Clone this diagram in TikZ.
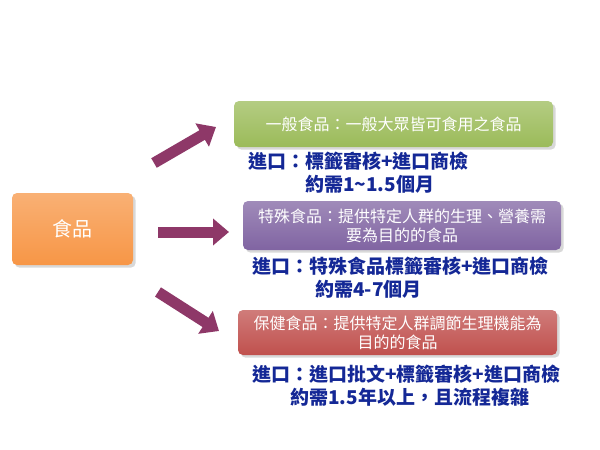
\documentclass[tikz,border=0pt]{standalone}
\usepackage{fontspec}
\setmainfont{Noto Sans CJK TC}
\usetikzlibrary{arrows.meta,shadows}
\definecolor{og}{RGB}{247,150,70}
\definecolor{gr}{RGB}{155,187,89}
\definecolor{pu}{RGB}{128,100,162}
\definecolor{rd}{RGB}{192,80,77}
\definecolor{ar}{RGB}{142,56,104}
\definecolor{bl}{RGB}{20,40,150}
\tikzset{
 box/.style={rounded corners=5pt,text=white,inner sep=0pt,align=center,font=\fontsize{16}{19}\selectfont,drop shadow={opacity=0.3}},
 barrow/.style={draw=ar,line width=11pt,-{Triangle[length=16pt,width=26pt]}},
 note/.style={text=bl,anchor=west,font=\fontsize{19}{21}\selectfont\bfseries,inner sep=0pt}
}
\begin{document}
\begin{tikzpicture}[x=1pt,y=-1pt]
\useasboundingbox (0,0) rectangle (600,450);
\fill[white] (0,0) rectangle (600,450);
\node[box,top color=og!75,bottom color=og,minimum width=121pt,minimum height=72pt,font=\fontsize{20}{22}\selectfont] (food) at (72.5,229) {食品};
\node[box,top color=gr!75,bottom color=gr,minimum width=319pt,minimum height=46pt] (g) at (393.5,124) {一般食品：一般大眾皆可食用之食品};
\node[box,top color=pu!75,bottom color=pu,minimum width=318pt,minimum height=49pt] (p) at (402,225.5) {特殊食品：提供特定人群的生理、營養需\\要為目的的食品};
\node[box,top color=rd!75,bottom color=rd,minimum width=319pt,minimum height=45pt] (r) at (397.5,332.5) {保健食品：提供特定人群調節生理機能為\\目的的食品};
\coordinate (s1) at (154,163); \coordinate (e1) at (216,127);
\coordinate (s2) at (158,232); \coordinate (e2) at (229,232);
\coordinate (s3) at (158,292); \coordinate (e3) at (219,331);
\draw[barrow] (s1) -- (e1);
\draw[barrow] (s2) -- (e2);
\draw[barrow] (s3) -- (e3);
\node[note] (n1) at (248,161) {進口：標籤審核+進口商檢};
\node[note] (n2) at (305,184) {約需1\textasciitilde1.5個月};
\node[note] (n3) at (252,266) {進口：特殊食品標籤審核+進口商檢};
\node[note] (n4) at (315,289) {約需4-7個月};
\node[note] (n5) at (252,374) {進口：進口批文+標籤審核+進口商檢};
\node[note] (n6) at (290,397) {約需1.5年以上，且流程複雜};
\end{tikzpicture}
\end{document}
